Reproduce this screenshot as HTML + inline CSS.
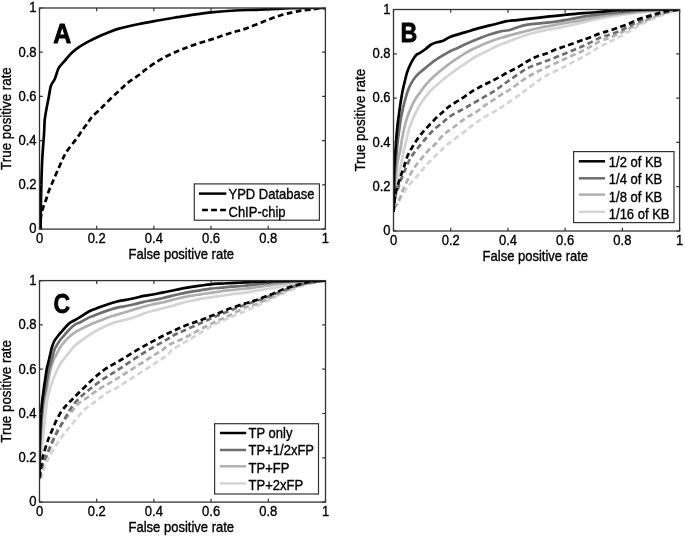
<!DOCTYPE html>
<html><head><meta charset="utf-8"><style>
html,body{margin:0;padding:0;background:#fff;}
svg{display:block;font-family:"Liberation Sans",Arial,sans-serif;}
text{stroke:#000;stroke-width:0.35px;}
</style></head><body>
<svg width="685" height="536" viewBox="0 0 685 536">
<rect width="685" height="536" fill="#fff"/>
<defs><clipPath id="clipA"><rect x="39.50" y="8.00" width="285.90" height="221.10"/></clipPath><clipPath id="clipB"><rect x="393.50" y="9.50" width="286.10" height="221.50"/></clipPath><clipPath id="clipC"><rect x="39.50" y="280.60" width="286.00" height="221.50"/></clipPath></defs>
<g clip-path="url(#clipA)">
<path d="M40.60 229.00 C40.63 225.83 40.72 215.67 40.80 210.00 C40.88 204.33 40.98 200.33 41.10 195.00 C41.22 189.67 41.32 183.83 41.50 178.00 C41.68 172.17 41.92 165.50 42.20 160.00 C42.48 154.50 42.88 149.53 43.20 145.00 C43.52 140.47 43.85 136.97 44.10 132.80 C44.35 128.63 44.32 123.92 44.70 120.00 C45.08 116.08 45.75 112.95 46.40 109.30 C47.05 105.65 47.85 102.02 48.60 98.10 C49.35 94.18 49.87 88.98 50.90 85.80 C51.93 82.62 53.58 81.80 54.80 79.00 C56.02 76.20 57.08 71.42 58.20 69.00 C59.32 66.58 60.22 66.08 61.50 64.50 C62.78 62.92 64.18 61.45 65.90 59.50 C67.62 57.55 69.57 54.90 71.80 52.80 C74.03 50.70 76.55 48.77 79.30 46.90 C82.05 45.03 85.07 43.35 88.30 41.60 C91.53 39.85 95.47 37.88 98.70 36.40 C101.93 34.92 104.32 34.00 107.70 32.70 C111.08 31.40 113.97 30.02 119.00 28.60 C124.03 27.18 131.47 25.55 137.90 24.20 C144.33 22.85 151.40 21.62 157.60 20.50 C163.80 19.38 171.37 18.12 175.10 17.50 C178.83 16.88 174.43 17.60 180.00 16.80 C185.57 16.00 199.38 13.75 208.50 12.70 C217.62 11.65 226.68 10.98 234.70 10.50 C242.72 10.02 249.67 10.07 256.60 9.80 C263.53 9.53 270.82 9.18 276.30 8.90 C281.78 8.62 281.38 8.25 289.50 8.10 C297.62 7.95 319.08 8.02 325.00 8.00" stroke="#000" stroke-width="2.7" fill="none" stroke-linejoin="round"/>
<path d="M40.20 229.00 C40.25 227.67 40.32 223.43 40.50 221.00 C40.68 218.57 40.82 216.75 41.30 214.40 C41.78 212.05 42.60 209.38 43.40 206.90 C44.20 204.42 45.20 202.15 46.10 199.50 C47.00 196.85 47.82 193.67 48.80 191.00 C49.78 188.33 50.90 186.08 52.00 183.50 C53.10 180.92 53.55 179.70 55.40 175.50 C57.25 171.30 61.22 162.30 63.10 158.30 C64.98 154.30 64.48 154.75 66.70 151.50 C68.92 148.25 73.72 142.47 76.40 138.80 C79.08 135.13 80.78 132.33 82.80 129.50 C84.82 126.67 86.92 123.97 88.50 121.80 C90.08 119.63 90.32 118.63 92.30 116.50 C94.28 114.37 97.60 111.72 100.40 109.00 C103.20 106.28 105.97 103.25 109.10 100.20 C112.23 97.15 116.22 93.50 119.20 90.70 C122.18 87.90 124.62 85.38 127.00 83.40 C129.38 81.42 131.33 80.33 133.50 78.80 C135.67 77.27 137.88 75.80 140.00 74.20 C142.12 72.60 143.30 71.33 146.20 69.20 C149.10 67.07 153.67 63.73 157.40 61.40 C161.13 59.07 164.87 57.07 168.60 55.20 C172.33 53.33 176.32 51.65 179.80 50.20 C183.28 48.75 185.93 47.78 189.50 46.50 C193.07 45.22 197.38 43.73 201.20 42.50 C205.02 41.27 208.67 40.32 212.40 39.10 C216.13 37.88 219.87 36.42 223.60 35.20 C227.33 33.98 231.23 32.85 234.80 31.80 C238.37 30.75 241.30 30.17 245.00 28.90 C248.70 27.63 253.00 25.78 257.00 24.20 C261.00 22.62 265.02 20.90 269.00 19.40 C272.98 17.90 276.92 16.40 280.90 15.20 C284.88 14.00 289.30 13.00 292.90 12.20 C296.50 11.40 299.30 10.83 302.50 10.40 C305.70 9.97 309.52 9.93 312.10 9.60 C314.68 9.27 315.85 8.67 318.00 8.40 C320.15 8.13 323.83 8.07 325.00 8.00" stroke="#000" stroke-width="2.7" fill="none" stroke-linejoin="round" stroke-dasharray="5.8 3.4"/>
</g>
<g clip-path="url(#clipB)">
<path d="M393.60 212.00 C393.92 209.17 394.85 199.83 395.50 195.00 C396.15 190.17 396.83 186.83 397.50 183.00 C398.17 179.17 398.83 175.50 399.50 172.00 C400.17 168.50 400.83 165.33 401.50 162.00 C402.17 158.67 402.88 154.83 403.50 152.00 C404.12 149.17 404.72 147.00 405.20 145.00 C405.68 143.00 405.92 142.07 406.40 140.00 C406.88 137.93 407.27 135.52 408.10 132.60 C408.93 129.68 410.10 125.87 411.40 122.50 C412.70 119.13 414.22 115.75 415.90 112.40 C417.58 109.05 419.45 105.57 421.50 102.40 C423.55 99.23 425.97 96.02 428.20 93.40 C430.43 90.78 432.48 88.93 434.90 86.70 C437.32 84.47 440.52 81.82 442.70 80.00 C444.88 78.18 445.62 77.62 448.00 75.80 C450.38 73.98 453.83 71.33 457.00 69.10 C460.17 66.87 463.83 64.50 467.00 62.40 C470.17 60.30 472.95 58.23 476.00 56.50 C479.05 54.77 482.05 53.63 485.30 52.00 C488.55 50.37 492.08 48.27 495.50 46.70 C498.92 45.13 502.38 43.95 505.80 42.60 C509.22 41.25 512.60 39.87 516.00 38.60 C519.40 37.33 522.20 36.20 526.20 35.00 C530.20 33.80 534.30 32.65 540.00 31.40 C545.70 30.15 553.58 28.92 560.40 27.50 C567.22 26.08 574.08 24.43 580.90 22.90 C587.72 21.37 594.12 19.72 601.30 18.30 C608.48 16.88 616.22 15.52 624.00 14.40 C631.78 13.28 641.00 12.30 648.00 11.60 C655.00 10.90 660.73 10.55 666.00 10.20 C671.27 9.85 677.33 9.62 679.60 9.50" stroke="#d4d4d4" stroke-width="2.7" fill="none" stroke-linejoin="round"/>
<path d="M393.60 208.00 C394.33 207.00 396.52 204.17 398.00 202.00 C399.48 199.83 400.88 197.58 402.50 195.00 C404.12 192.42 405.72 189.12 407.70 186.50 C409.68 183.88 412.17 181.82 414.40 179.30 C416.63 176.78 419.05 173.83 421.10 171.40 C423.15 168.97 424.67 166.95 426.70 164.70 C428.73 162.45 431.08 160.08 433.30 157.90 C435.52 155.72 437.95 153.58 440.00 151.60 C442.05 149.62 443.43 147.90 445.60 146.00 C447.77 144.10 449.78 142.65 453.00 140.20 C456.22 137.75 461.17 134.15 464.90 131.30 C468.63 128.45 471.92 125.60 475.40 123.10 C478.88 120.60 482.32 118.42 485.80 116.30 C489.28 114.18 492.82 112.50 496.30 110.40 C499.78 108.30 502.97 106.20 506.70 103.70 C510.43 101.20 515.22 97.90 518.70 95.40 C522.18 92.90 523.32 91.82 527.60 88.70 C531.88 85.58 538.12 80.45 544.40 76.70 C550.68 72.95 558.58 69.68 565.30 66.20 C572.02 62.72 578.92 59.05 584.70 55.80 C590.48 52.55 595.85 49.02 600.00 46.70 C604.15 44.38 606.40 43.50 609.60 41.90 C612.80 40.30 616.02 38.80 619.20 37.10 C622.38 35.40 625.52 33.58 628.70 31.70 C631.88 29.82 635.10 27.58 638.30 25.80 C641.50 24.02 644.70 22.50 647.90 21.00 C651.10 19.50 654.30 18.10 657.50 16.80 C660.70 15.50 663.42 14.42 667.10 13.20 C670.78 11.98 677.52 10.12 679.60 9.50" stroke="#d4d4d4" stroke-width="2.7" fill="none" stroke-linejoin="round" stroke-dasharray="5.8 3.4"/>
<path d="M393.60 212.00 C393.83 207.50 394.52 192.00 395.00 185.00 C395.48 178.00 396.00 174.17 396.50 170.00 C397.00 165.83 397.37 163.33 398.00 160.00 C398.63 156.67 399.63 153.45 400.30 150.00 C400.97 146.55 401.35 142.95 402.00 139.30 C402.65 135.65 403.37 131.65 404.20 128.10 C405.03 124.55 405.88 121.37 407.00 118.00 C408.12 114.63 409.50 111.07 410.90 107.90 C412.30 104.73 413.88 101.55 415.40 99.00 C416.92 96.45 418.12 95.15 420.00 92.60 C421.88 90.05 424.27 86.50 426.70 83.70 C429.13 80.90 431.98 78.23 434.60 75.80 C437.22 73.37 439.60 71.33 442.40 69.10 C445.20 66.87 448.23 64.63 451.40 62.40 C454.57 60.17 458.23 57.72 461.40 55.70 C464.57 53.68 467.27 51.97 470.40 50.30 C473.53 48.63 476.87 47.15 480.20 45.70 C483.53 44.25 487.00 42.88 490.40 41.60 C493.80 40.32 497.18 39.10 500.60 38.00 C504.02 36.90 507.48 35.93 510.90 35.00 C514.32 34.07 517.70 33.25 521.10 32.40 C524.50 31.55 528.15 30.67 531.30 29.90 C534.45 29.13 535.15 28.80 540.00 27.80 C544.85 26.80 553.58 25.15 560.40 23.90 C567.22 22.65 574.08 21.58 580.90 20.30 C587.72 19.02 594.12 17.38 601.30 16.20 C608.48 15.02 616.22 14.08 624.00 13.20 C631.78 12.32 638.73 11.52 648.00 10.90 C657.27 10.28 674.33 9.73 679.60 9.50" stroke="#b0b0b0" stroke-width="2.7" fill="none" stroke-linejoin="round"/>
<path d="M393.60 208.00 C394.25 207.30 396.38 205.63 397.50 203.80 C398.62 201.97 399.28 199.62 400.30 197.00 C401.32 194.38 402.38 190.90 403.60 188.10 C404.82 185.30 406.28 182.82 407.60 180.20 C408.92 177.58 410.02 175.00 411.50 172.40 C412.98 169.80 414.73 167.03 416.50 164.60 C418.27 162.17 420.05 160.23 422.10 157.80 C424.15 155.37 426.55 152.33 428.80 150.00 C431.05 147.67 433.17 146.33 435.60 143.80 C438.03 141.27 440.63 137.38 443.40 134.80 C446.17 132.22 448.62 131.00 452.20 128.30 C455.78 125.60 461.03 121.22 464.90 118.60 C468.77 115.98 472.17 114.72 475.40 112.60 C478.63 110.48 481.32 108.02 484.30 105.90 C487.28 103.78 490.32 101.88 493.30 99.90 C496.28 97.92 499.22 95.87 502.20 94.00 C505.18 92.13 507.07 91.48 511.20 88.70 C515.33 85.92 521.47 80.68 527.00 77.30 C532.53 73.92 538.02 71.50 544.40 68.40 C550.78 65.30 558.58 61.80 565.30 58.70 C572.02 55.60 578.92 52.70 584.70 49.80 C590.48 46.90 595.85 43.32 600.00 41.30 C604.15 39.28 606.40 39.00 609.60 37.70 C612.80 36.40 616.02 34.98 619.20 33.50 C622.38 32.02 625.52 30.38 628.70 28.80 C631.88 27.22 635.10 25.50 638.30 24.00 C641.50 22.50 644.70 21.20 647.90 19.80 C651.10 18.40 654.30 16.80 657.50 15.60 C660.70 14.40 663.42 13.62 667.10 12.60 C670.78 11.58 677.52 10.02 679.60 9.50" stroke="#b0b0b0" stroke-width="2.7" fill="none" stroke-linejoin="round" stroke-dasharray="5.8 3.4"/>
<path d="M393.60 212.00 C393.75 206.67 394.18 187.83 394.50 180.00 C394.82 172.17 395.10 170.00 395.50 165.00 C395.90 160.00 396.53 153.92 396.90 150.00 C397.27 146.08 397.32 144.78 397.70 141.50 C398.08 138.22 398.68 134.03 399.20 130.30 C399.72 126.57 400.15 122.83 400.80 119.10 C401.45 115.37 402.35 111.25 403.10 107.90 C403.85 104.55 404.47 101.98 405.30 99.00 C406.13 96.02 407.17 92.53 408.10 90.00 C409.03 87.47 409.68 85.97 410.90 83.80 C412.12 81.63 413.88 78.88 415.40 77.00 C416.92 75.12 418.12 74.18 420.00 72.50 C421.88 70.82 424.27 68.87 426.70 66.90 C429.13 64.93 431.98 62.57 434.60 60.70 C437.22 58.83 439.80 57.28 442.40 55.70 C445.00 54.12 447.58 52.52 450.20 51.20 C452.82 49.88 455.30 49.08 458.10 47.80 C460.90 46.52 463.32 45.13 467.00 43.50 C470.68 41.87 476.30 39.53 480.20 38.00 C484.10 36.47 487.00 35.40 490.40 34.30 C493.80 33.20 497.53 32.08 500.60 31.40 C503.67 30.72 506.23 30.80 508.80 30.20 C511.37 29.60 513.10 28.70 516.00 27.80 C518.90 26.90 522.20 25.55 526.20 24.80 C530.20 24.05 534.30 23.97 540.00 23.30 C545.70 22.63 553.58 21.82 560.40 20.80 C567.22 19.78 574.08 18.30 580.90 17.20 C587.72 16.10 596.45 14.87 601.30 14.20 C606.15 13.53 606.22 13.60 610.00 13.20 C613.78 12.80 617.67 12.30 624.00 11.80 C630.33 11.30 638.73 10.58 648.00 10.20 C657.27 9.82 674.33 9.62 679.60 9.50" stroke="#6e6e6e" stroke-width="2.7" fill="none" stroke-linejoin="round"/>
<path d="M393.60 208.00 C393.83 206.33 394.35 201.00 395.00 198.00 C395.65 195.00 396.58 192.83 397.50 190.00 C398.42 187.17 399.50 183.75 400.50 181.00 C401.50 178.25 402.48 175.95 403.50 173.50 C404.52 171.05 405.30 169.10 406.60 166.30 C407.90 163.50 409.32 159.88 411.30 156.70 C413.28 153.52 415.95 150.40 418.50 147.20 C421.05 144.00 423.95 140.50 426.60 137.50 C429.25 134.50 431.60 131.80 434.40 129.20 C437.20 126.60 440.80 124.05 443.40 121.90 C446.00 119.75 446.67 118.47 450.00 116.30 C453.33 114.13 459.42 111.13 463.40 108.90 C467.38 106.67 470.42 104.90 473.90 102.90 C477.38 100.90 481.07 98.77 484.30 96.90 C487.53 95.03 490.57 93.43 493.30 91.70 C496.03 89.97 497.97 88.43 500.70 86.50 C503.43 84.57 505.32 83.10 509.70 80.10 C514.08 77.10 521.22 71.57 527.00 68.50 C532.78 65.43 538.02 64.20 544.40 61.70 C550.78 59.20 558.58 56.23 565.30 53.50 C572.02 50.77 578.92 47.93 584.70 45.30 C590.48 42.67 595.85 39.47 600.00 37.70 C604.15 35.93 606.40 35.80 609.60 34.70 C612.80 33.60 616.02 32.48 619.20 31.10 C622.38 29.72 625.52 27.98 628.70 26.40 C631.88 24.82 635.10 23.00 638.30 21.60 C641.50 20.20 644.70 19.20 647.90 18.00 C651.10 16.80 654.30 15.40 657.50 14.40 C660.70 13.40 663.42 12.82 667.10 12.00 C670.78 11.18 677.52 9.92 679.60 9.50" stroke="#6e6e6e" stroke-width="2.7" fill="none" stroke-linejoin="round" stroke-dasharray="5.8 3.4"/>
<path d="M393.60 212.00 C393.65 206.25 393.72 186.17 393.90 177.50 C394.08 168.83 394.38 165.25 394.70 160.00 C395.02 154.75 395.48 150.20 395.80 146.00 C396.12 141.80 396.28 138.53 396.60 134.80 C396.92 131.07 397.27 127.33 397.70 123.60 C398.13 119.87 398.68 116.13 399.20 112.40 C399.72 108.67 400.20 104.93 400.80 101.20 C401.40 97.47 402.05 93.65 402.80 90.00 C403.55 86.35 404.60 82.20 405.30 79.30 C406.00 76.40 406.35 74.65 407.00 72.60 C407.65 70.55 408.27 69.07 409.20 67.00 C410.13 64.93 411.47 62.17 412.60 60.20 C413.73 58.23 414.77 56.42 416.00 55.20 C417.23 53.98 418.40 53.93 420.00 52.90 C421.60 51.87 423.73 50.40 425.60 49.00 C427.47 47.60 429.33 45.63 431.20 44.50 C433.07 43.37 434.93 42.77 436.80 42.20 C438.67 41.63 440.20 41.98 442.40 41.10 C444.60 40.22 446.25 38.35 450.00 36.90 C453.75 35.45 459.92 33.90 464.90 32.40 C469.88 30.90 474.92 29.27 479.90 27.90 C484.88 26.53 490.33 25.32 494.80 24.20 C499.27 23.08 502.97 21.88 506.70 21.20 C510.43 20.52 514.15 20.43 517.20 20.10 C520.25 19.77 519.97 19.77 525.00 19.20 C530.03 18.63 539.93 17.52 547.40 16.70 C554.87 15.88 562.33 15.00 569.80 14.30 C577.27 13.60 586.33 13.00 592.20 12.50 C598.07 12.00 600.70 11.68 605.00 11.30 C609.30 10.92 612.83 10.48 618.00 10.20 C623.17 9.92 625.73 9.72 636.00 9.60 C646.27 9.48 672.33 9.52 679.60 9.50" stroke="#000" stroke-width="2.7" fill="none" stroke-linejoin="round"/>
<path d="M393.60 212.00 C393.78 209.88 394.33 202.53 394.70 199.30 C395.07 196.07 395.25 195.03 395.80 192.60 C396.35 190.17 397.17 187.50 398.00 184.70 C398.83 181.90 399.83 178.67 400.80 175.80 C401.77 172.93 402.73 170.68 403.80 167.50 C404.87 164.32 405.85 159.98 407.20 156.70 C408.55 153.42 410.42 150.43 411.90 147.80 C413.38 145.17 414.67 143.03 416.10 140.90 C417.53 138.77 418.93 136.95 420.50 135.00 C422.07 133.05 423.18 131.75 425.50 129.20 C427.82 126.65 431.42 122.65 434.40 119.70 C437.38 116.75 440.80 113.80 443.40 111.50 C446.00 109.20 446.92 108.08 450.00 105.90 C453.08 103.72 458.33 100.75 461.90 98.40 C465.47 96.05 468.33 93.73 471.40 91.80 C474.47 89.87 477.32 88.38 480.30 86.80 C483.28 85.22 486.28 83.83 489.30 82.30 C492.32 80.77 495.22 79.32 498.40 77.60 C501.58 75.88 505.05 73.78 508.40 72.00 C511.75 70.22 515.32 68.68 518.50 66.90 C521.68 65.12 524.52 62.98 527.50 61.30 C530.48 59.62 533.23 58.10 536.40 56.80 C539.57 55.50 543.32 54.70 546.50 53.50 C549.68 52.30 552.37 50.82 555.50 49.60 C558.63 48.38 560.43 47.92 565.30 46.20 C570.17 44.48 578.92 41.42 584.70 39.30 C590.48 37.18 595.85 34.95 600.00 33.50 C604.15 32.05 606.40 31.63 609.60 30.60 C612.80 29.57 616.02 28.45 619.20 27.30 C622.38 26.15 625.52 25.05 628.70 23.70 C631.88 22.35 635.10 20.45 638.30 19.20 C641.50 17.95 644.90 17.10 647.90 16.20 C650.90 15.30 653.50 14.60 656.30 13.80 C659.10 13.00 661.70 12.00 664.70 11.40 C667.70 10.80 671.82 10.52 674.30 10.20 C676.78 9.88 678.72 9.62 679.60 9.50" stroke="#000" stroke-width="2.7" fill="none" stroke-linejoin="round" stroke-dasharray="5.8 3.4"/>
</g>
<g clip-path="url(#clipC)">
<path d="M39.60 478.00 C39.92 474.17 40.85 462.57 41.50 455.00 C42.15 447.43 42.88 438.82 43.50 432.60 C44.12 426.38 44.57 423.13 45.20 417.70 C45.83 412.27 46.65 404.28 47.30 400.00 C47.95 395.72 48.33 394.90 49.10 392.00 C49.87 389.10 50.80 385.72 51.90 382.60 C53.00 379.48 54.30 376.40 55.70 373.30 C57.10 370.20 58.75 366.63 60.30 364.00 C61.85 361.37 63.78 359.08 65.00 357.50 C66.22 355.92 66.20 356.23 67.60 354.50 C69.00 352.77 71.57 349.08 73.40 347.10 C75.23 345.12 76.67 344.12 78.60 342.60 C80.53 341.08 83.22 339.30 85.00 338.00 C86.78 336.70 87.02 336.22 89.30 334.80 C91.58 333.38 95.58 331.15 98.70 329.50 C101.82 327.85 104.90 326.22 108.00 324.90 C111.10 323.58 114.30 322.45 117.30 321.60 C120.30 320.75 123.17 320.52 126.00 319.80 C128.83 319.08 131.35 318.33 134.30 317.30 C137.25 316.27 140.58 314.68 143.70 313.60 C146.82 312.52 149.90 311.65 153.00 310.80 C156.10 309.95 159.20 309.28 162.30 308.50 C165.40 307.72 168.65 306.93 171.60 306.10 C174.55 305.27 176.90 304.35 180.00 303.50 C183.10 302.65 186.80 301.77 190.20 301.00 C193.60 300.23 197.00 299.50 200.40 298.90 C203.80 298.30 207.18 297.90 210.60 297.40 C214.02 296.90 217.48 296.42 220.90 295.90 C224.32 295.38 227.70 294.77 231.10 294.30 C234.50 293.83 238.15 293.52 241.30 293.10 C244.45 292.68 245.22 292.57 250.00 291.80 C254.78 291.03 263.33 289.63 270.00 288.50 C276.67 287.37 283.33 286.08 290.00 285.00 C296.67 283.92 304.08 282.73 310.00 282.00 C315.92 281.27 322.92 280.83 325.50 280.60" stroke="#d4d4d4" stroke-width="2.7" fill="none" stroke-linejoin="round"/>
<path d="M39.60 478.00 C39.92 477.87 40.57 479.32 41.50 477.20 C42.43 475.08 43.72 469.02 45.20 465.30 C46.68 461.58 48.53 458.38 50.40 454.90 C52.27 451.42 54.15 447.88 56.40 444.40 C58.65 440.92 61.38 437.23 63.90 434.00 C66.42 430.77 68.18 428.97 71.50 425.00 C74.82 421.03 79.77 414.15 83.80 410.20 C87.83 406.25 91.72 404.28 95.70 401.30 C99.68 398.32 103.82 394.80 107.70 392.30 C111.58 389.80 109.67 392.08 119.00 386.30 C128.33 380.52 154.87 363.65 163.70 357.60 C172.53 351.55 168.47 352.57 172.00 350.00 C175.53 347.43 180.25 345.00 184.90 342.20 C189.55 339.40 194.92 336.18 199.90 333.20 C204.88 330.22 209.83 326.90 214.80 324.30 C219.77 321.70 224.67 319.77 229.70 317.60 C234.73 315.43 240.85 313.05 245.00 311.30 C249.15 309.55 251.40 308.60 254.60 307.10 C257.80 305.60 261.02 303.88 264.20 302.30 C267.38 300.72 270.52 299.08 273.70 297.60 C276.88 296.12 280.10 294.80 283.30 293.40 C286.50 292.00 289.70 290.50 292.90 289.20 C296.10 287.90 299.30 286.60 302.50 285.60 C305.70 284.60 309.30 283.90 312.10 283.20 C314.90 282.50 317.07 281.83 319.30 281.40 C321.53 280.97 324.47 280.73 325.50 280.60" stroke="#d4d4d4" stroke-width="2.7" fill="none" stroke-linejoin="round" stroke-dasharray="5.8 3.4"/>
<path d="M39.50 478.00 C39.58 473.33 39.70 458.00 40.00 450.00 C40.30 442.00 40.87 435.88 41.30 430.00 C41.73 424.12 42.08 419.70 42.60 414.70 C43.12 409.70 43.63 404.57 44.40 400.00 C45.17 395.43 46.47 390.97 47.20 387.30 C47.93 383.63 48.20 381.10 48.80 378.00 C49.40 374.90 50.02 371.70 50.80 368.70 C51.58 365.70 52.60 362.28 53.50 360.00 C54.40 357.72 55.13 357.03 56.20 355.00 C57.27 352.97 58.53 349.98 59.90 347.80 C61.27 345.62 62.78 343.77 64.40 341.90 C66.02 340.03 67.62 338.35 69.60 336.60 C71.58 334.85 74.48 332.62 76.30 331.40 C78.12 330.18 78.33 330.38 80.50 329.30 C82.67 328.22 86.27 326.27 89.30 324.90 C92.33 323.53 95.58 322.35 98.70 321.10 C101.82 319.85 104.90 318.48 108.00 317.40 C111.10 316.32 114.30 315.50 117.30 314.60 C120.30 313.70 123.17 312.87 126.00 312.00 C128.83 311.13 131.35 310.30 134.30 309.40 C137.25 308.50 140.58 307.45 143.70 306.60 C146.82 305.75 149.90 305.00 153.00 304.30 C156.10 303.60 159.20 303.10 162.30 302.40 C165.40 301.70 168.65 300.83 171.60 300.10 C174.55 299.37 176.90 298.70 180.00 298.00 C183.10 297.30 186.80 296.52 190.20 295.90 C193.60 295.28 197.00 294.82 200.40 294.30 C203.80 293.78 207.18 293.30 210.60 292.80 C214.02 292.30 217.48 291.75 220.90 291.30 C224.32 290.85 227.70 290.48 231.10 290.10 C234.50 289.72 238.15 289.32 241.30 289.00 C244.45 288.68 246.05 288.70 250.00 288.20 C253.95 287.70 259.50 286.78 265.00 286.00 C270.50 285.22 277.17 284.22 283.00 283.50 C288.83 282.78 292.92 282.18 300.00 281.70 C307.08 281.22 321.25 280.78 325.50 280.60" stroke="#b0b0b0" stroke-width="2.7" fill="none" stroke-linejoin="round"/>
<path d="M39.60 478.00 C40.33 475.18 42.53 465.78 44.00 461.10 C45.47 456.42 46.25 454.90 48.40 449.90 C50.55 444.90 54.48 435.72 56.90 431.10 C59.32 426.48 60.67 425.18 62.90 422.20 C65.13 419.22 67.82 416.18 70.30 413.20 C72.78 410.22 74.80 407.03 77.80 404.30 C80.80 401.57 84.82 399.30 88.30 396.80 C91.78 394.30 95.23 391.53 98.70 389.30 C102.17 387.07 105.72 385.38 109.10 383.40 C112.48 381.42 112.15 381.70 119.00 377.40 C125.85 373.10 143.00 362.15 150.20 357.60 C157.40 353.05 158.90 352.30 162.20 350.10 C165.50 347.90 166.22 346.47 170.00 344.40 C173.78 342.33 179.92 340.18 184.90 337.70 C189.88 335.22 194.92 332.12 199.90 329.50 C204.88 326.88 209.83 324.37 214.80 322.00 C219.77 319.63 224.67 317.68 229.70 315.30 C234.73 312.92 240.85 309.47 245.00 307.70 C249.15 305.93 251.40 305.88 254.60 304.70 C257.80 303.52 261.02 301.98 264.20 300.60 C267.38 299.22 270.52 297.80 273.70 296.40 C276.88 295.00 280.10 293.60 283.30 292.20 C286.50 290.80 289.70 289.30 292.90 288.00 C296.10 286.70 299.30 285.30 302.50 284.40 C305.70 283.50 308.27 283.23 312.10 282.60 C315.93 281.97 323.27 280.93 325.50 280.60" stroke="#b0b0b0" stroke-width="2.7" fill="none" stroke-linejoin="round" stroke-dasharray="5.8 3.4"/>
<path d="M39.50 478.00 C39.55 473.33 39.58 458.00 39.80 450.00 C40.02 442.00 40.43 436.00 40.80 430.00 C41.17 424.00 41.53 419.00 42.00 414.00 C42.47 409.00 42.95 404.45 43.60 400.00 C44.25 395.55 45.28 390.97 45.90 387.30 C46.52 383.63 46.77 381.10 47.30 378.00 C47.83 374.90 48.33 371.82 49.10 368.70 C49.87 365.58 51.03 362.42 51.90 359.30 C52.77 356.18 53.58 352.17 54.30 350.00 C55.02 347.83 55.27 347.90 56.20 346.30 C57.13 344.70 58.53 342.27 59.90 340.40 C61.27 338.53 62.78 336.97 64.40 335.10 C66.02 333.23 67.85 330.93 69.60 329.20 C71.35 327.47 73.10 325.87 74.90 324.70 C76.70 323.53 78.00 323.42 80.40 322.20 C82.80 320.98 86.25 318.82 89.30 317.40 C92.35 315.98 95.58 314.87 98.70 313.70 C101.82 312.53 104.90 311.42 108.00 310.40 C111.10 309.38 114.30 308.33 117.30 307.60 C120.30 306.87 123.17 306.55 126.00 306.00 C128.83 305.45 131.35 304.98 134.30 304.30 C137.25 303.62 140.58 302.60 143.70 301.90 C146.82 301.20 149.90 300.72 153.00 300.10 C156.10 299.48 159.20 298.90 162.30 298.20 C165.40 297.50 168.65 296.60 171.60 295.90 C174.55 295.20 176.90 294.68 180.00 294.00 C183.10 293.32 186.80 292.42 190.20 291.80 C193.60 291.18 197.00 290.82 200.40 290.30 C203.80 289.78 207.18 289.13 210.60 288.70 C214.02 288.27 217.48 288.03 220.90 287.70 C224.32 287.37 227.70 286.98 231.10 286.70 C234.50 286.42 238.15 286.25 241.30 286.00 C244.45 285.75 246.55 285.57 250.00 285.20 C253.45 284.83 257.00 284.33 262.00 283.80 C267.00 283.27 273.67 282.47 280.00 282.00 C286.33 281.53 292.42 281.23 300.00 281.00 C307.58 280.77 321.25 280.67 325.50 280.60" stroke="#6e6e6e" stroke-width="2.7" fill="none" stroke-linejoin="round"/>
<path d="M39.60 478.00 C39.92 476.33 40.77 470.83 41.50 468.00 C42.23 465.17 43.08 463.18 44.00 461.00 C44.92 458.82 45.95 457.23 47.00 454.90 C48.05 452.57 49.18 449.62 50.30 447.00 C51.42 444.38 52.48 441.80 53.70 439.20 C54.92 436.60 56.20 434.02 57.60 431.40 C59.00 428.78 60.52 426.30 62.10 423.50 C63.68 420.70 65.33 417.58 67.10 414.60 C68.87 411.62 70.42 408.57 72.70 405.60 C74.98 402.63 77.97 399.52 80.80 396.80 C83.63 394.08 86.47 391.92 89.70 389.30 C92.93 386.68 96.72 383.58 100.20 381.10 C103.68 378.62 107.47 376.38 110.60 374.40 C113.73 372.42 114.13 372.37 119.00 369.20 C123.87 366.03 133.85 359.20 139.80 355.40 C145.75 351.60 150.23 349.02 154.70 346.40 C159.17 343.78 163.22 341.68 166.60 339.70 C169.98 337.72 171.95 336.08 175.00 334.50 C178.05 332.92 180.75 332.03 184.90 330.20 C189.05 328.37 194.92 325.73 199.90 323.50 C204.88 321.27 209.83 318.92 214.80 316.80 C219.77 314.68 224.67 312.82 229.70 310.80 C234.73 308.78 239.25 306.80 245.00 304.70 C250.75 302.60 257.82 300.58 264.20 298.20 C270.58 295.82 277.12 292.70 283.30 290.40 C289.48 288.10 294.27 286.03 301.30 284.40 C308.33 282.77 321.47 281.23 325.50 280.60" stroke="#6e6e6e" stroke-width="2.7" fill="none" stroke-linejoin="round" stroke-dasharray="5.8 3.4"/>
<path d="M39.50 478.00 C39.52 473.33 39.48 458.00 39.60 450.00 C39.72 442.00 39.97 436.00 40.20 430.00 C40.43 424.00 40.65 419.00 41.00 414.00 C41.35 409.00 42.00 402.90 42.30 400.00 C42.60 397.10 42.52 398.72 42.80 396.60 C43.08 394.48 43.57 390.40 44.00 387.30 C44.43 384.20 44.93 381.10 45.40 378.00 C45.87 374.90 46.18 371.82 46.80 368.70 C47.42 365.58 48.37 362.42 49.10 359.30 C49.83 356.18 50.67 352.22 51.20 350.00 C51.73 347.78 51.72 347.60 52.30 346.00 C52.88 344.40 53.55 342.33 54.70 340.40 C55.85 338.47 57.70 336.27 59.20 334.40 C60.70 332.53 62.08 331.00 63.70 329.20 C65.32 327.40 67.03 325.13 68.90 323.60 C70.77 322.07 72.98 321.13 74.90 320.00 C76.82 318.87 78.00 318.25 80.40 316.80 C82.80 315.35 86.25 312.83 89.30 311.30 C92.35 309.77 95.58 308.77 98.70 307.60 C101.82 306.43 104.90 305.32 108.00 304.30 C111.10 303.28 114.33 302.23 117.30 301.50 C120.27 300.77 122.97 300.45 125.80 299.90 C128.63 299.35 131.32 298.87 134.30 298.20 C137.28 297.53 140.58 296.52 143.70 295.90 C146.82 295.28 149.90 295.05 153.00 294.50 C156.10 293.95 159.20 293.23 162.30 292.60 C165.40 291.97 168.57 291.33 171.60 290.70 C174.63 290.07 177.40 289.38 180.50 288.80 C183.60 288.22 186.88 287.72 190.20 287.20 C193.52 286.68 197.00 286.18 200.40 285.70 C203.80 285.22 207.18 284.65 210.60 284.30 C214.02 283.95 217.48 283.80 220.90 283.60 C224.32 283.40 227.70 283.27 231.10 283.10 C234.50 282.93 238.15 282.77 241.30 282.60 C244.45 282.43 245.22 282.32 250.00 282.10 C254.78 281.88 263.33 281.52 270.00 281.30 C276.67 281.08 280.75 280.92 290.00 280.80 C299.25 280.68 319.58 280.63 325.50 280.60" stroke="#000" stroke-width="2.7" fill="none" stroke-linejoin="round"/>
<path d="M39.60 478.00 C39.75 476.67 40.18 472.33 40.50 470.00 C40.82 467.67 41.17 465.97 41.50 464.00 C41.83 462.03 42.15 459.90 42.50 458.20 C42.85 456.50 42.95 456.03 43.60 453.80 C44.25 451.57 45.47 447.60 46.40 444.80 C47.33 442.00 48.17 439.62 49.20 437.00 C50.23 434.38 51.38 431.90 52.60 429.10 C53.82 426.30 55.02 423.18 56.50 420.20 C57.98 417.22 59.73 413.82 61.50 411.20 C63.27 408.58 65.42 406.37 67.10 404.50 C68.78 402.63 69.82 401.78 71.60 400.00 C73.38 398.22 75.27 396.32 77.80 393.80 C80.33 391.28 83.82 387.77 86.80 384.90 C89.78 382.03 92.47 379.35 95.70 376.60 C98.93 373.85 102.15 371.08 106.20 368.40 C110.25 365.72 114.90 363.55 120.00 360.50 C125.10 357.45 131.52 353.20 136.80 350.10 C142.08 347.00 147.22 344.33 151.70 341.90 C156.18 339.47 160.65 337.07 163.70 335.50 C166.75 333.93 166.47 334.12 170.00 332.50 C173.53 330.88 179.92 327.80 184.90 325.80 C189.88 323.80 194.92 322.37 199.90 320.50 C204.88 318.63 209.83 316.58 214.80 314.60 C219.77 312.62 224.67 310.45 229.70 308.60 C234.73 306.75 240.85 304.83 245.00 303.50 C249.15 302.17 251.40 301.68 254.60 300.60 C257.80 299.52 261.02 298.20 264.20 297.00 C267.38 295.80 270.52 294.70 273.70 293.40 C276.88 292.10 280.10 290.40 283.30 289.20 C286.50 288.00 289.90 287.10 292.90 286.20 C295.90 285.30 298.50 284.50 301.30 283.80 C304.10 283.10 306.70 282.50 309.70 282.00 C312.70 281.50 316.67 281.03 319.30 280.80 C321.93 280.57 324.47 280.63 325.50 280.60" stroke="#000" stroke-width="2.7" fill="none" stroke-linejoin="round" stroke-dasharray="5.8 3.4"/>
</g>
<text transform="translate(39.50,243.40) scale(0.93,1)" text-anchor="middle" font-size="14" >0</text>
<text transform="translate(36.60,233.40) scale(0.93,1)" text-anchor="end" font-size="14" >0</text>
<text transform="translate(96.68,243.40) scale(0.93,1)" text-anchor="middle" font-size="14" >0.2</text>
<text transform="translate(36.60,189.18) scale(0.93,1)" text-anchor="end" font-size="14" >0.2</text>
<text transform="translate(153.86,243.40) scale(0.93,1)" text-anchor="middle" font-size="14" >0.4</text>
<text transform="translate(36.60,144.96) scale(0.93,1)" text-anchor="end" font-size="14" >0.4</text>
<text transform="translate(211.04,243.40) scale(0.93,1)" text-anchor="middle" font-size="14" >0.6</text>
<text transform="translate(36.60,100.74) scale(0.93,1)" text-anchor="end" font-size="14" >0.6</text>
<text transform="translate(268.22,243.40) scale(0.93,1)" text-anchor="middle" font-size="14" >0.8</text>
<text transform="translate(36.60,56.52) scale(0.93,1)" text-anchor="end" font-size="14" >0.8</text>
<text transform="translate(325.40,243.40) scale(0.93,1)" text-anchor="middle" font-size="14" >1</text>
<text transform="translate(36.60,12.30) scale(0.93,1)" text-anchor="end" font-size="14" >1</text>
<path d="M39.50 229.10V225.80M39.50 8.00V11.30M39.50 229.10H42.80M325.40 229.10H322.10M96.68 229.10V225.80M96.68 8.00V11.30M39.50 184.88H42.80M325.40 184.88H322.10M153.86 229.10V225.80M153.86 8.00V11.30M39.50 140.66H42.80M325.40 140.66H322.10M211.04 229.10V225.80M211.04 8.00V11.30M39.50 96.44H42.80M325.40 96.44H322.10M268.22 229.10V225.80M268.22 8.00V11.30M39.50 52.22H42.80M325.40 52.22H322.10M325.40 229.10V225.80M325.40 8.00V11.30M39.50 8.00H42.80M325.40 8.00H322.10" stroke="#333" stroke-width="1.2" fill="none"/>
<rect x="39.50" y="8.00" width="285.90" height="221.10" stroke="#333" stroke-width="1.3" fill="none"/>
<text transform="translate(181.25,259.10) scale(0.93,1)" text-anchor="middle" font-size="14" >False positive rate</text>
<text text-anchor="middle" font-size="14" transform="translate(11.20,118.55) rotate(-90) scale(0.955,1)">True positive rate</text>
<text transform="translate(393.50,245.30) scale(0.93,1)" text-anchor="middle" font-size="14" >0</text>
<text transform="translate(390.60,235.30) scale(0.93,1)" text-anchor="end" font-size="14" >0</text>
<text transform="translate(450.72,245.30) scale(0.93,1)" text-anchor="middle" font-size="14" >0.2</text>
<text transform="translate(390.60,191.00) scale(0.93,1)" text-anchor="end" font-size="14" >0.2</text>
<text transform="translate(507.94,245.30) scale(0.93,1)" text-anchor="middle" font-size="14" >0.4</text>
<text transform="translate(390.60,146.70) scale(0.93,1)" text-anchor="end" font-size="14" >0.4</text>
<text transform="translate(565.16,245.30) scale(0.93,1)" text-anchor="middle" font-size="14" >0.6</text>
<text transform="translate(390.60,102.40) scale(0.93,1)" text-anchor="end" font-size="14" >0.6</text>
<text transform="translate(622.38,245.30) scale(0.93,1)" text-anchor="middle" font-size="14" >0.8</text>
<text transform="translate(390.60,58.10) scale(0.93,1)" text-anchor="end" font-size="14" >0.8</text>
<text transform="translate(679.60,245.30) scale(0.93,1)" text-anchor="middle" font-size="14" >1</text>
<text transform="translate(390.60,13.80) scale(0.93,1)" text-anchor="end" font-size="14" >1</text>
<path d="M393.50 231.00V227.70M393.50 9.50V12.80M393.50 231.00H396.80M679.60 231.00H676.30M450.72 231.00V227.70M450.72 9.50V12.80M393.50 186.70H396.80M679.60 186.70H676.30M507.94 231.00V227.70M507.94 9.50V12.80M393.50 142.40H396.80M679.60 142.40H676.30M565.16 231.00V227.70M565.16 9.50V12.80M393.50 98.10H396.80M679.60 98.10H676.30M622.38 231.00V227.70M622.38 9.50V12.80M393.50 53.80H396.80M679.60 53.80H676.30M679.60 231.00V227.70M679.60 9.50V12.80M393.50 9.50H396.80M679.60 9.50H676.30" stroke="#333" stroke-width="1.2" fill="none"/>
<rect x="393.50" y="9.50" width="286.10" height="221.50" stroke="#333" stroke-width="1.3" fill="none"/>
<text transform="translate(535.35,261.00) scale(0.93,1)" text-anchor="middle" font-size="14" >False positive rate</text>
<text text-anchor="middle" font-size="14" transform="translate(365.20,120.25) rotate(-90) scale(0.955,1)">True positive rate</text>
<text transform="translate(39.50,516.40) scale(0.93,1)" text-anchor="middle" font-size="14" >0</text>
<text transform="translate(36.60,506.40) scale(0.93,1)" text-anchor="end" font-size="14" >0</text>
<text transform="translate(96.70,516.40) scale(0.93,1)" text-anchor="middle" font-size="14" >0.2</text>
<text transform="translate(36.60,462.10) scale(0.93,1)" text-anchor="end" font-size="14" >0.2</text>
<text transform="translate(153.90,516.40) scale(0.93,1)" text-anchor="middle" font-size="14" >0.4</text>
<text transform="translate(36.60,417.80) scale(0.93,1)" text-anchor="end" font-size="14" >0.4</text>
<text transform="translate(211.10,516.40) scale(0.93,1)" text-anchor="middle" font-size="14" >0.6</text>
<text transform="translate(36.60,373.50) scale(0.93,1)" text-anchor="end" font-size="14" >0.6</text>
<text transform="translate(268.30,516.40) scale(0.93,1)" text-anchor="middle" font-size="14" >0.8</text>
<text transform="translate(36.60,329.20) scale(0.93,1)" text-anchor="end" font-size="14" >0.8</text>
<text transform="translate(325.50,516.40) scale(0.93,1)" text-anchor="middle" font-size="14" >1</text>
<text transform="translate(36.60,284.90) scale(0.93,1)" text-anchor="end" font-size="14" >1</text>
<path d="M39.50 502.10V498.80M39.50 280.60V283.90M39.50 502.10H42.80M325.50 502.10H322.20M96.70 502.10V498.80M96.70 280.60V283.90M39.50 457.80H42.80M325.50 457.80H322.20M153.90 502.10V498.80M153.90 280.60V283.90M39.50 413.50H42.80M325.50 413.50H322.20M211.10 502.10V498.80M211.10 280.60V283.90M39.50 369.20H42.80M325.50 369.20H322.20M268.30 502.10V498.80M268.30 280.60V283.90M39.50 324.90H42.80M325.50 324.90H322.20M325.50 502.10V498.80M325.50 280.60V283.90M39.50 280.60H42.80M325.50 280.60H322.20" stroke="#333" stroke-width="1.2" fill="none"/>
<rect x="39.50" y="280.60" width="286.00" height="221.50" stroke="#333" stroke-width="1.3" fill="none"/>
<text transform="translate(181.30,532.10) scale(0.93,1)" text-anchor="middle" font-size="14" >False positive rate</text>
<text text-anchor="middle" font-size="14" transform="translate(11.20,391.35) rotate(-90) scale(0.955,1)">True positive rate</text>
<rect x="194.30" y="183.90" width="125.10" height="36.30" fill="#fff" stroke="#333" stroke-width="1.2"/>
<path d="M198.90 193.60H226.30" stroke="#000" stroke-width="2.5"/>
<text transform="translate(228.50,199.00) scale(0.93,1)" text-anchor="start" font-size="14" >YPD Database</text>
<path d="M198.90 210.10H226.30" stroke="#000" stroke-width="2.5" stroke-dasharray="5.8 3.2" stroke-dashoffset="5.8"/>
<text transform="translate(228.50,217.10) scale(0.93,1)" text-anchor="start" font-size="14" >ChIP-chip</text>
<rect x="573.60" y="151.60" width="100.40" height="71.00" fill="#fff" stroke="#333" stroke-width="1.2"/>
<path d="M578.80 161.30H605.10" stroke="#000" stroke-width="2.5"/>
<text transform="translate(608.80,167.30) scale(0.93,1)" text-anchor="start" font-size="14" >1/2 of KB</text>
<path d="M578.80 178.30H605.10" stroke="#6e6e6e" stroke-width="2.5"/>
<text transform="translate(608.80,184.00) scale(0.93,1)" text-anchor="start" font-size="14" >1/4 of KB</text>
<path d="M578.80 194.60H605.10" stroke="#b0b0b0" stroke-width="2.5"/>
<text transform="translate(608.80,201.50) scale(0.93,1)" text-anchor="start" font-size="14" >1/8 of KB</text>
<path d="M578.80 211.80H605.10" stroke="#d4d4d4" stroke-width="2.5"/>
<text transform="translate(608.80,218.60) scale(0.93,1)" text-anchor="start" font-size="14" >1/16 of KB</text>
<rect x="214.60" y="423.70" width="103.90" height="70.30" fill="#fff" stroke="#333" stroke-width="1.2"/>
<path d="M219.90 433.00H246.20" stroke="#000" stroke-width="2.5"/>
<text transform="translate(248.60,438.40) scale(0.93,1)" text-anchor="start" font-size="14" >TP only</text>
<path d="M219.90 450.00H246.20" stroke="#6e6e6e" stroke-width="2.5"/>
<text transform="translate(248.60,455.40) scale(0.93,1)" text-anchor="start" font-size="14" >TP+1/2xFP</text>
<path d="M219.90 466.30H246.20" stroke="#b0b0b0" stroke-width="2.5"/>
<text transform="translate(248.60,473.20) scale(0.93,1)" text-anchor="start" font-size="14" >TP+FP</text>
<path d="M219.90 483.40H246.20" stroke="#d4d4d4" stroke-width="2.5"/>
<text transform="translate(248.60,490.30) scale(0.93,1)" text-anchor="start" font-size="14" >TP+2xFP</text>
<text transform="translate(53.3,43.0) scale(0.91,1)" font-size="27.3" font-weight="bold" style="stroke-width:0.8px;stroke-linejoin:round">A</text>
<text transform="translate(400.6,42.2) scale(0.85,1)" font-size="27.3" font-weight="bold" style="stroke-width:0.8px;stroke-linejoin:round">B</text>
<text transform="translate(53.4,312.9) scale(0.84,1)" font-size="27.3" font-weight="bold" style="stroke-width:0.8px;stroke-linejoin:round">C</text>
</svg>
</body></html>
